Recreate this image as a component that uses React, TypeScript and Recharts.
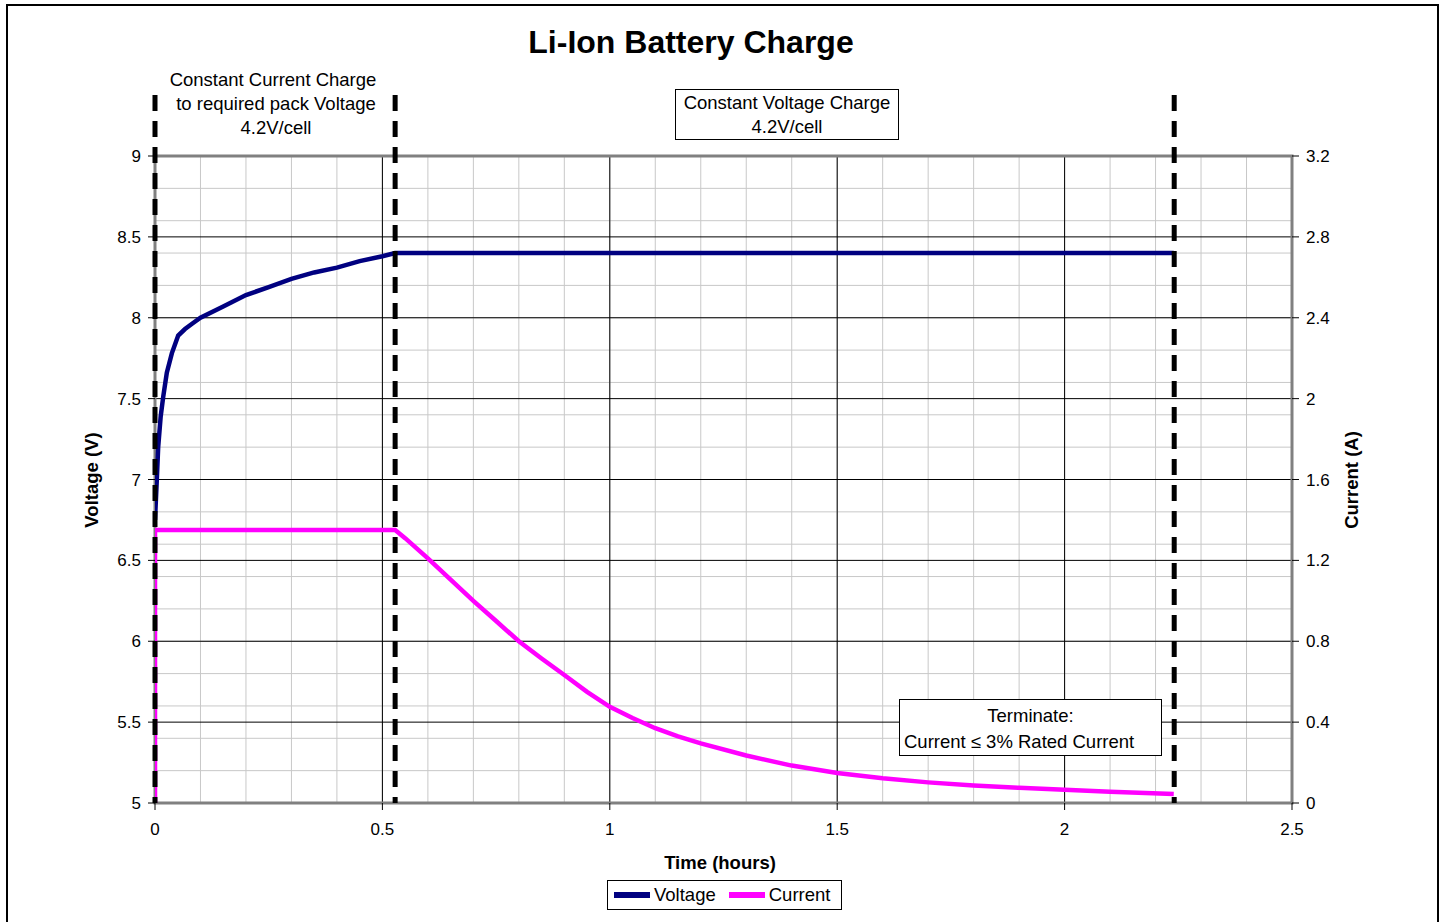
import { ComposedChart, Line, XAxis, YAxis, CartesianGrid, ReferenceLine, ReferenceArea } from 'recharts';

// voltage curve (hours, volts)
const voltageTime = [0, 0.004, 0.007, 0.0125, 0.018, 0.026, 0.037, 0.051, 0.066, 0.08, 0.1, 0.15, 0.2, 0.25, 0.3, 0.35, 0.4, 0.45, 0.5, 0.528, 2.24];
const voltageValues = [6.75, 7.0, 7.2, 7.39, 7.51, 7.66, 7.78, 7.89, 7.93, 7.96, 8.0, 8.07, 8.14, 8.19, 8.24, 8.28, 8.31, 8.35, 8.38, 8.4, 8.4];

// current curve (hours, amps)
const currentTime = [0, 0, 0.528, 0.55, 0.6, 0.65, 0.7, 0.75, 0.8, 0.85, 0.9, 0.95, 1.0, 1.05, 1.1, 1.15, 1.2, 1.3, 1.4, 1.5, 1.6, 1.7, 1.8, 1.9, 2.0, 2.1, 2.24];
const currentValues = [0, 1.35, 1.35, 1.31, 1.21, 1.105, 1.0, 0.9, 0.8, 0.715, 0.633, 0.55, 0.476, 0.42, 0.37, 0.33, 0.295, 0.235, 0.185, 0.148, 0.122, 0.102, 0.087, 0.075, 0.065, 0.056, 0.045];

// phase markers (hours)
const phaseMarkers = [0, 0.528, 2.241];

const timeTicks = [0, 0.5, 1, 1.5, 2, 2.5];
const voltageTicks = [5, 5.5, 6, 6.5, 7, 7.5, 8, 8.5, 9];
const currentTicks = [0, 0.4, 0.8, 1.2, 1.6, 2, 2.4, 2.8, 3.2];
const minorTimeTicks = Array.from({ length: 26 }, (_, i) => i / 10);
const minorVoltageTicks = Array.from({ length: 41 }, (_, i) => Math.round((5 + i / 10) * 10) / 10);

const voltageData = voltageTime.map((t, i) => ({ t, v: voltageValues[i] }));
const currentData = currentTime.map((t, i) => ({ t, a: currentValues[i] }));

const FONT = '"Liberation Sans", Arial, sans-serif';
const TEXT_SIZE = 18.5;
const tickStyle = { fontSize: 17, fill: '#000', fontFamily: FONT };

// page coords -> container coords
const OX = 8;
const OY = 8;

function Txt(props: { x: number; y: number; children: any; bold?: boolean; size?: number; rotate?: boolean }) {
  return (
    <div
      style={{
        position: 'absolute',
        left: props.x - OX,
        top: props.y - OY,
        transform: `translate(-50%, -50%)${props.rotate ? ' rotate(-90deg)' : ''}`,
        whiteSpace: 'nowrap',
        fontFamily: FONT,
        fontSize: props.size || TEXT_SIZE,
        fontWeight: props.bold ? 'bold' : 'normal',
        lineHeight: '24px',
        textAlign: 'center',
        color: '#000',
      }}
    >
      {props.children}
    </div>
  );
}

function Box(props: { x: number; y: number; w: number; h: number; children: any }) {
  return (
    <div
      style={{
        position: 'absolute',
        left: props.x - OX,
        top: props.y - OY,
        width: props.w,
        height: props.h,
        boxSizing: 'border-box',
        border: '1px solid #000',
        background: '#fff',
        fontFamily: FONT,
        fontSize: TEXT_SIZE,
        color: '#000',
        whiteSpace: 'nowrap',
      }}
    >
      {props.children}
    </div>
  );
}

export default function App() {
  return (
    <div style={{ position: 'relative', width: 1429, height: 908, background: '#fff' }}>
      <div
        style={{
          position: 'fixed',
          left: 6,
          top: 4,
          width: 1433,
          height: 940,
          boxSizing: 'border-box',
          border: '2px solid #000',
          pointerEvents: 'none',
          zIndex: 5,
        }}
      />
      <div style={{ position: 'absolute', left: 0, top: -2 }}>
        <ComposedChart width={1429} height={916} margin={{ top: 150, right: 85, bottom: 89, left: 80 }}>
          <XAxis
            type="number"
            dataKey="t"
            domain={[0, 2.5]}
            ticks={timeTicks}
            height={30}
            tick={tickStyle}
            tickSize={7}
            tickMargin={13}
            axisLine={false}
            tickLine={{ stroke: '#000' }}
            allowDataOverflow
          />
          <YAxis
            yAxisId="left"
            type="number"
            domain={[5, 9]}
            ticks={voltageTicks}
            width={67}
            tick={tickStyle}
            tickSize={7}
            tickMargin={7}
            axisLine={false}
            tickLine={{ stroke: '#000' }}
          />
          <YAxis
            yAxisId="right"
            orientation="right"
            type="number"
            domain={[0, 3.2]}
            ticks={currentTicks}
            width={60}
            tick={tickStyle}
            tickSize={7}
            tickMargin={7}
            axisLine={false}
            tickLine={{ stroke: '#000' }}
          />
          <CartesianGrid
            yAxisId="left"
            horizontalValues={minorVoltageTicks}
            verticalValues={minorTimeTicks}
            stroke="#c8c8c8"
            strokeWidth={1}
          />
          <CartesianGrid yAxisId="left" stroke="#000" strokeWidth={1} />
          <ReferenceArea
            yAxisId="left"
            x1={0}
            x2={2.5}
            y1={5}
            y2={9}
            fill="none"
            fillOpacity={0}
            stroke="#808080"
            strokeWidth={3}
            ifOverflow="visible"
          />
          <Line
            yAxisId="left"
            data={voltageData}
            dataKey="v"
            type="linear"
            stroke="#000080"
            strokeWidth={4.5}
            dot={false}
            isAnimationActive={false}
            name="Voltage"
          />
          <Line
            yAxisId="right"
            data={currentData}
            dataKey="a"
            type="linear"
            stroke="#ff00ff"
            strokeWidth={4.5}
            dot={false}
            isAnimationActive={false}
            name="Current"
          />
          {phaseMarkers.map((m) => (
            <ReferenceLine
              key={m}
              yAxisId="left"
              segment={[{ x: m, y: 9.377 }, { x: m, y: 5 }]}
              stroke="#000"
              strokeWidth={5}
              strokeDasharray="16 10"
              ifOverflow="visible"
            />
          ))}
        </ComposedChart>
      </div>

      <Txt x={691} y={42} bold size={32}>Li-Ion Battery Charge</Txt>

      <Txt x={273} y={80}>Constant Current Charge</Txt>
      <Txt x={276} y={104}>to required pack Voltage</Txt>
      <Txt x={276} y={128}>4.2V/cell</Txt>

      <Box x={675} y={89} w={224} h={51}>
        <div style={{ textAlign: 'center', lineHeight: '24px', marginTop: 1 }}>
          Constant Voltage Charge
          <br />
          4.2V/cell
        </div>
      </Box>

      <Box x={899} y={699} w={263} h={57}>
        <div style={{ lineHeight: '26px', marginTop: 3 }}>
          <div style={{ textAlign: 'center' }}>Terminate:</div>
          <div style={{ paddingLeft: 4 }}>Current ≤ 3% Rated Current</div>
        </div>
      </Box>

      <Txt x={92} y={480} bold rotate>Voltage (V)</Txt>
      <Txt x={1352} y={480} bold rotate>Current (A)</Txt>
      <Txt x={720} y={863} bold>Time (hours)</Txt>

      <div
        style={{
          position: 'absolute',
          left: 607 - OX,
          top: 880 - OY,
          width: 235,
          height: 30,
          boxSizing: 'border-box',
          border: '1px solid #000',
          background: '#fff',
          fontFamily: FONT,
          fontSize: TEXT_SIZE,
          display: 'flex',
          alignItems: 'center',
        }}
      >
        <span style={{ display: 'inline-block', width: 36, height: 6, background: '#000080', marginLeft: 6, marginRight: 4 }} />
        <span>Voltage</span>
        <span style={{ display: 'inline-block', width: 36, height: 6, background: '#ff00ff', marginLeft: 13, marginRight: 4 }} />
        <span>Current</span>
      </div>
    </div>
  );
}
